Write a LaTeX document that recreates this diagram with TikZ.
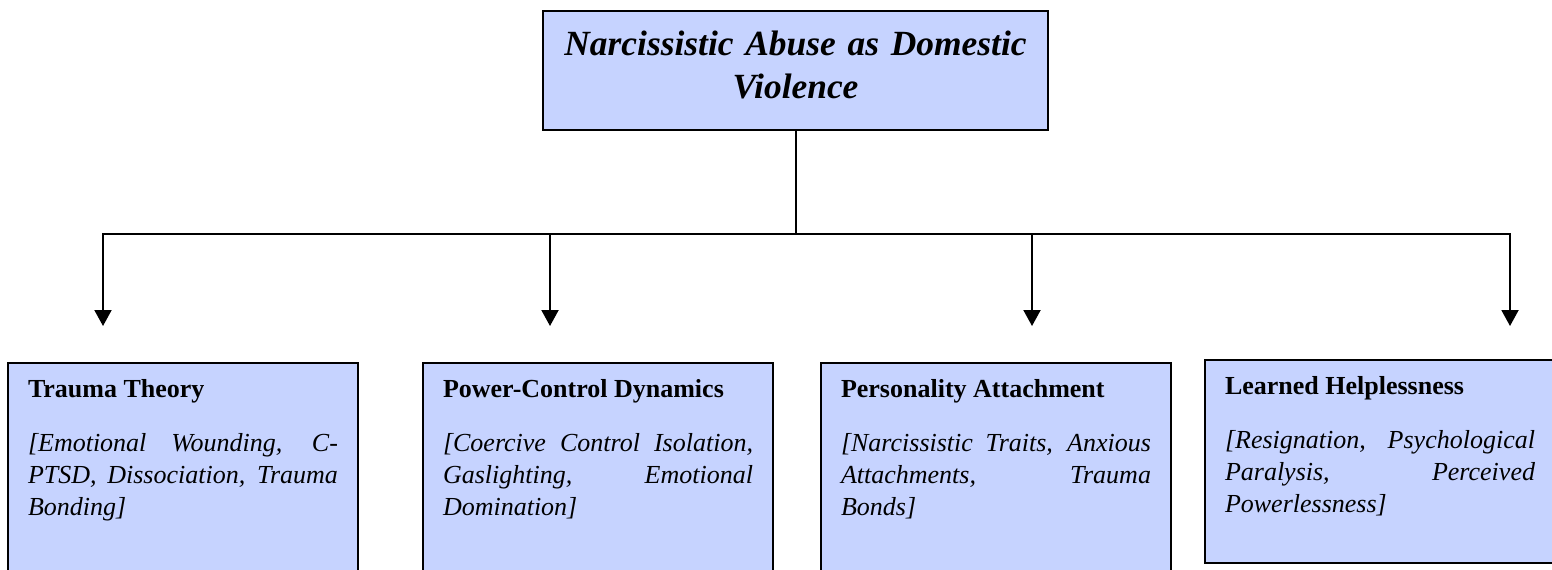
\documentclass[tikz,border=0pt]{standalone}
\usepackage{fontspec}
\setmainfont{Liberation Serif}
\usepackage{xcolor}
\usepackage{tikz}
\usetikzlibrary{arrows.meta, positioning, calc}
\definecolor{BoxBlue}{RGB}{198,211,255}
\tikzset{
  >=latex,
  % Riquadri
  root/.style={draw,line width=1pt,fill=BoxBlue,anchor=north,text width=245pt,align=center,
    inner xsep=3.75pt,inner ysep=10pt,text depth=27pt,font=\fontsize{17.7}{21.5}\selectfont\bfseries\itshape},
  topic/.style={draw,line width=1pt,fill=BoxBlue,anchor=north west,text width=155pt,align=justify,
    inner xsep=10pt,inner ysep=8pt,text depth=90pt,font=\fontsize{13}{16}\selectfont},
  % Connessioni
  connect/.style={line width=1pt,black},
  connect arrow/.style={-{Triangle[length=8pt,width=8.5pt]},line width=1pt,black}
}

\begin{document}
\begin{tikzpicture}[x=0.5pt,y=-0.5pt]
    \useasboundingbox (0,0) rectangle (1552,569);
    \clip (0,0) rectangle (1552,569);
    \node[root] (root) at (795.5,10) {Narcissistic Abuse as Domestic\\Violence};
    \node[topic] (trauma) at (7,362) {\textbf{Trauma Theory}\par\vspace{11pt}\itshape
      [Emotional Wounding, C-\linebreak PTSD, Dissociation, Trauma\linebreak Bonding]};
    \node[topic] (power) at (422,362) {\textbf{Power-Control Dynamics}\par\vspace{11pt}\itshape
      [Coercive Control Isolation,\linebreak Gaslighting, Emotional\linebreak Domination]};
    \node[topic] (attach) at (820,362) {\textbf{Personality Attachment}\par\vspace{11pt}\itshape
      [Narcissistic Traits, Anxious\linebreak Attachments, Trauma\linebreak Bonds]};
    \node[topic,text depth=76.5pt] (helpless) at (1204,359) {\textbf{Learned Helplessness}\par\vspace{11pt}\itshape
      [Resignation, Psychological\linebreak Paralysis, Perceived\linebreak Powerlessness]};
    \coordinate (hub) at (795.5,234);
    \coordinate (a1) at (103,326);
    \coordinate (a2) at (550,326);
    \coordinate (a3) at (1032,326);
    \coordinate (a4) at (1510,326);
    \draw[connect] (root) -- (hub);
    \draw[connect arrow] (hub) -| (a1);
    \draw[connect arrow] (hub) -| (a4);
    \draw[connect arrow] (a2 |- hub) -- (a2);
    \draw[connect arrow] (a3 |- hub) -- (a3);
  \end{tikzpicture}
\end{document}
